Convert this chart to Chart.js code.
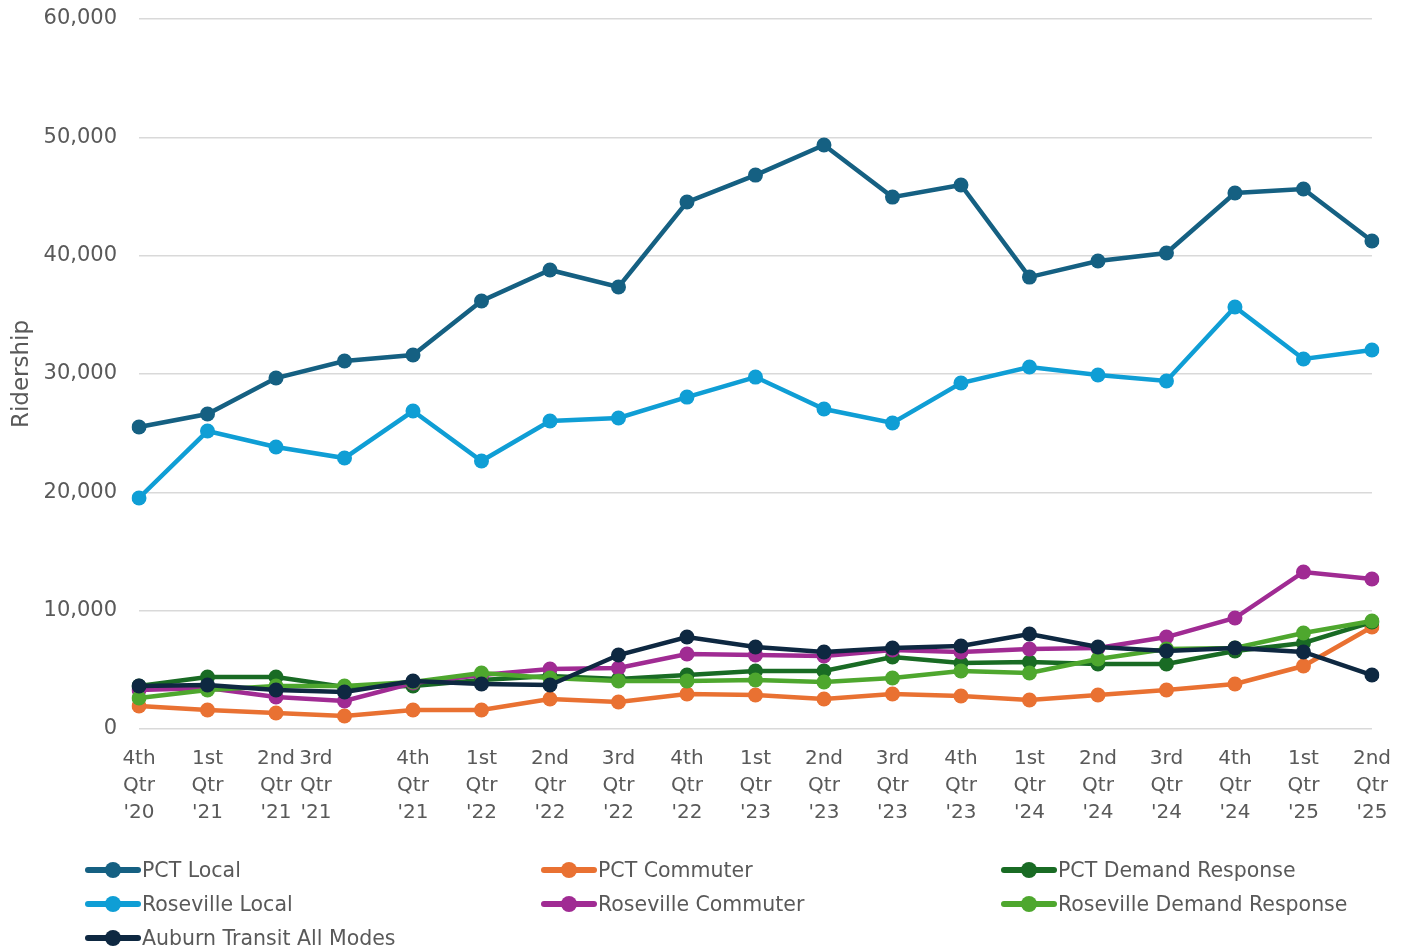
<!DOCTYPE html>
<html>
<head>
<meta charset="utf-8">
<script src="https://cdn.jsdelivr.net/npm/chart.js@4.4.1/dist/chart.umd.min.js"></script>
<style>
  html, body { margin: 0; padding: 0; background: #ffffff; }
  #wrap { position: relative; width: 1407px; height: 947px; overflow: hidden; }
  #chartBox { position: absolute; left: 0; top: 0; width: 1407px; height: 835px; }
  #legend { position: absolute; left: 0; top: 0; width: 1407px; height: 947px; pointer-events: none; }
  .item { position: absolute; display: flex; align-items: center; height: 30px; white-space: nowrap;
          font-family: "DejaVu Sans", sans-serif; font-size: 20.5px; color: #595959; }
  .sym { position: relative; width: 56px; height: 30px; margin-right: 1px; }
  .sym .ln { position: absolute; left: 0; right: 0; top: 12px; height: 6px; border-radius: 3px; }
  .sym .dt { position: absolute; left: 20px; top: 7px; width: 16px; height: 16px; border-radius: 50%; }
</style>
</head>
<body>
<div id="wrap">
  <div id="chartBox"><canvas id="c"></canvas></div>
  <div id="legend"></div>
</div>
<script>
const categories = ["4th Qtr '20","1st Qtr '21","2nd Qtr '21","3rd Qtr '21","4th Qtr '21","1st Qtr '22","2nd Qtr '22","3rd Qtr '22","4th Qtr '22","1st Qtr '23","2nd Qtr '23","3rd Qtr '23","4th Qtr '23","1st Qtr '24","2nd Qtr '24","3rd Qtr '24","4th Qtr '24","1st Qtr '25","2nd Qtr '25"];

const pctLocal      = [25520,26620,29660,31100,31600,36170,38790,37350,44530,46810,49350,44950,45970,38190,39550,40220,45290,45630,41240];
const pctCommuter   = [1940,1600,1350,1100,1600,1600,2540,2280,2960,2870,2540,2960,2790,2450,2870,3300,3800,5320,8620];
const pctDemand     = [3630,4390,4390,3550,3630,4140,4480,4220,4560,4900,4900,6080,5580,5660,5490,5490,6590,7270,9040];
const rosLocal      = [19520,25180,23830,22900,26870,22650,26030,26280,28050,29740,27040,25860,29240,30590,29910,29410,35660,31270,32030];
const rosCommuter   = [3300,3460,2700,2370,3890,4560,5070,5150,6340,6250,6170,6680,6510,6760,6840,7770,9380,13270,12680];
const rosDemand     = [2620,3300,3630,3630,3970,4730,4310,4060,4060,4140,3970,4310,4900,4730,5920,6760,6840,8110,9130];
const auburn        = [3630,3720,3300,3130,4060,3800,3720,6250,7770,6930,6510,6840,7010,8030,6930,6590,6840,6510,4560];

const yTicks = [0,10000,20000,30000,40000,50000,60000];

const seriesNames  = ["PCT Local","PCT Commuter","PCT Demand Response","Roseville Local","Roseville Commuter","Roseville Demand Response","Auburn Transit All Modes"];
const seriesData   = [pctLocal,pctCommuter,pctDemand,rosLocal,rosCommuter,rosDemand,auburn];
const seriesColors = ["#156082","#E97132","#196B24","#0F9ED5","#A02B93","#4EA72E","#0E2841"];

const NB = "\u00a0";
const datasets = seriesNames.map((name, i) => ({
  label: name,
  data: seriesData[i],
  borderColor: seriesColors[i],
  backgroundColor: seriesColors[i],
  pointBackgroundColor: seriesColors[i],
  pointBorderColor: seriesColors[i],
  borderWidth: 4.5,
  pointRadius: 7.5,
  pointHoverRadius: 7.5,
  pointBorderWidth: 0,
  tension: 0,
  fill: false,
  order: seriesNames.length - i
}));

const chart = new Chart(document.getElementById('c'), {
  type: 'line',
  data: { labels: categories, datasets },
  options: {
    responsive: true,
    maintainAspectRatio: false,
    animation: false,
    layout: { padding: { left: 0, right: 29, top: 19, bottom: 0 } },
    plugins: { legend: { display: false }, tooltip: { enabled: false } },
    scales: {
      x: {
        offset: false,
        grid: { display: false, drawTicks: false },
        border: { display: false },
        ticks: {
          autoSkip: false, maxRotation: 0, minRotation: 0, padding: 16,
          color: '#595959',
          font: { family: "'DejaVu Sans', sans-serif", size: 20, lineHeight: 1.35 },
          callback: function(v, idx) {
            const parts = categories[idx].split(' ');
            if (idx === 3) return parts.map(p => p + NB.repeat(9));
            return parts;
          }
        },
        afterFit: (s) => { s.height = 106; }
      },
      y: {
        min: 0, max: 60000,
        afterBuildTicks: (s) => { s.ticks = yTicks.map(v => ({ value: v })); },
        grid: { color: '#d9d9d9', lineWidth: 1.5, drawTicks: false },
        border: { display: false },
        ticks: {
          padding: 22, color: '#595959',
          font: { family: "'DejaVu Sans', sans-serif", size: 21 },
          callback: (v) => v.toLocaleString('en-US')
        },
        title: {
          display: true, text: 'Ridership', color: '#595959',
          font: { family: "'DejaVu Sans', sans-serif", size: 23 },
          padding: { top: 8, bottom: 0 }
        },
        afterFit: (s) => { s.width = 139; s.paddingTop = 0; s.paddingBottom = 0; }
      }
    }
  }
});

// HTML legend built from chart datasets
const legendPos = [[85,855],[541,855],[1001,855],[85,889],[541,889],[1001,889],[85,923]];
const lg = document.getElementById('legend');
chart.data.datasets.forEach((ds, i) => {
  const it = document.createElement('div');
  it.className = 'item';
  it.style.left = legendPos[i][0] + 'px';
  it.style.top = legendPos[i][1] + 'px';
  it.innerHTML = '<div class="sym"><div class="ln" style="background:' + ds.borderColor + '"></div><div class="dt" style="background:' + ds.borderColor + '"></div></div><span>' + ds.label + '</span>';
  lg.appendChild(it);
});
</script>
</body>
</html>
